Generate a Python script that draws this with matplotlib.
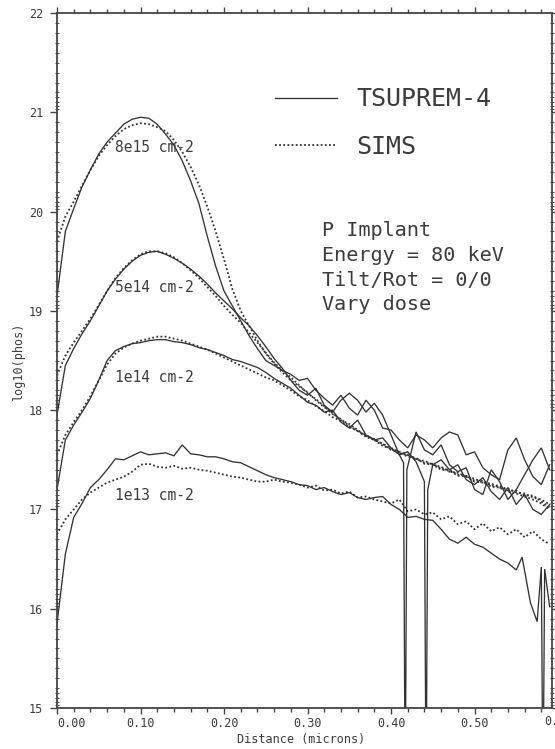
import matplotlib
matplotlib.use("Agg")
import matplotlib.pyplot as plt
import matplotlib.transforms as mtransforms

# ---------------- data (depth in microns, log10 concentration) ----------------
depth_main = [0.00, 0.01, 0.02, 0.03, 0.04, 0.05, 0.06, 0.07, 0.08, 0.09,
              0.10, 0.11, 0.12, 0.13, 0.14, 0.15, 0.16, 0.17, 0.18, 0.19,
              0.20, 0.21, 0.22, 0.23, 0.24, 0.25]
depth_tail = [0.26, 0.27, 0.28, 0.29, 0.30, 0.31, 0.32, 0.33, 0.34, 0.35,
              0.36, 0.37, 0.38, 0.39, 0.40, 0.41, 0.42, 0.43, 0.44, 0.45,
              0.46, 0.47, 0.48, 0.49, 0.50, 0.51, 0.52, 0.53, 0.54, 0.55,
              0.56, 0.57, 0.58, 0.59]

# TSUPREM-4 (solid)
tsu_8e15 = [19.15, 19.80, 20.03, 20.25, 20.42, 20.58, 20.70, 20.79, 20.88, 20.93,
            20.95, 20.94, 20.88, 20.78, 20.67, 20.51, 20.31, 20.08, 19.75, 19.45,
            19.20, 19.05, 18.90, 18.75, 18.62, 18.50,
            18.45, 18.40, 18.36, 18.30, 18.32, 18.20, 18.12, 18.05, 18.15, 18.02,
            17.95, 18.10, 18.00, 17.82, 17.80, 17.70, 17.62, 17.75, 17.70, 17.62,
            17.72, 17.78, 17.75, 17.55, 17.58, 17.42, 17.35, 17.30, 17.60, 17.72,
            17.50, 17.33, 17.25, 17.45]

depth_tsu_5e14_tail = [0.26, 0.27, 0.28, 0.29, 0.30, 0.31, 0.32, 0.33, 0.34, 0.35,
                       0.36, 0.37, 0.38, 0.39, 0.40, 0.41, 0.415, 0.417, 0.419, 0.43,
                       0.44, 0.45, 0.46, 0.47, 0.48, 0.49, 0.50, 0.51, 0.52, 0.53,
                       0.54, 0.55, 0.56, 0.57, 0.58, 0.59]
tsu_5e14 = [17.95, 18.45, 18.62, 18.77, 18.90, 19.05, 19.20, 19.32, 19.42, 19.50,
            19.56, 19.59, 19.60, 19.57, 19.53, 19.48, 19.42, 19.35, 19.27, 19.18,
            19.10, 19.02, 18.93, 18.85, 18.75, 18.64,
            18.52, 18.42, 18.30, 18.20, 18.15, 18.22, 18.05, 17.98, 18.10, 18.17,
            18.10, 17.98, 18.07, 17.95, 17.75, 17.55, 17.47, 14.00, 17.40, 17.78,
            17.60, 17.55, 17.65, 17.45, 17.38, 17.42, 17.20, 17.15, 17.40, 17.28,
            17.10, 17.20, 17.35, 17.50, 17.62, 17.40]

depth_tsu_1e14_tail = [0.26, 0.27, 0.28, 0.29, 0.30, 0.31, 0.32, 0.33, 0.34, 0.35,
                       0.36, 0.37, 0.38, 0.39, 0.40, 0.41, 0.42, 0.43, 0.44, 0.442,
                       0.444, 0.45, 0.46, 0.47, 0.48, 0.49, 0.50, 0.51, 0.52, 0.53,
                       0.54, 0.55, 0.56, 0.57, 0.58, 0.59]
tsu_1e14 = [17.20, 17.70, 17.85, 17.98, 18.12, 18.30, 18.50, 18.60, 18.64, 18.67,
            18.68, 18.70, 18.71, 18.71, 18.69, 18.68, 18.66, 18.63, 18.61, 18.58,
            18.55, 18.51, 18.49, 18.46, 18.43, 18.38,
            18.32, 18.27, 18.22, 18.15, 18.08, 18.05, 17.98, 18.00, 17.88, 17.82,
            17.90, 17.75, 17.70, 17.72, 17.62, 17.55, 17.58, 17.48, 17.28, 14.00,
            17.20, 17.45, 17.50, 17.40, 17.45, 17.30, 17.25, 17.32, 17.18, 17.10,
            17.22, 17.05, 17.15, 17.00, 16.95, 17.05]

depth_tsu_1e13_tail = [0.26, 0.27, 0.28, 0.29, 0.30, 0.31, 0.32, 0.33, 0.34, 0.35,
                       0.36, 0.37, 0.38, 0.39, 0.40, 0.41, 0.42, 0.43, 0.44, 0.45,
                       0.46, 0.47, 0.48, 0.49, 0.50, 0.51, 0.52, 0.53, 0.54, 0.55,
                       0.557, 0.567, 0.575, 0.580, 0.582, 0.584, 0.59]
tsu_1e13 = [15.85, 16.55, 16.92, 17.06, 17.22, 17.30, 17.40, 17.51, 17.50, 17.54,
            17.58, 17.55, 17.56, 17.57, 17.54, 17.65, 17.56, 17.55, 17.53, 17.53,
            17.51, 17.48, 17.47, 17.43, 17.39, 17.35,
            17.32, 17.30, 17.28, 17.25, 17.24, 17.20, 17.22, 17.18, 17.15, 17.17,
            17.12, 17.10, 17.12, 17.13, 17.05, 17.00, 16.92, 16.93, 16.90, 16.89,
            16.80, 16.70, 16.66, 16.72, 16.65, 16.62, 16.56, 16.50, 16.46, 16.39,
            16.52, 16.06, 15.87, 16.42, 14.00, 16.40, 16.02]

# SIMS (dotted)
sims_8e15 = [19.70, 19.95, 20.10, 20.26, 20.42, 20.56, 20.67, 20.76, 20.83, 20.87,
             20.89, 20.88, 20.85, 20.81, 20.72, 20.60, 20.45, 20.27, 20.05, 19.80,
             19.52, 19.22, 19.00, 18.85, 18.70, 18.57,
             18.47, 18.38, 18.30, 18.24, 18.18, 18.10, 18.03, 17.97, 17.90, 17.86,
             17.80, 17.74, 17.71, 17.66, 17.62, 17.58, 17.55, 17.50, 17.49, 17.45,
             17.43, 17.38, 17.37, 17.33, 17.31, 17.27, 17.26, 17.22, 17.21, 17.17,
             17.16, 17.12, 17.10, 17.05]
sims_5e14 = [18.35, 18.55, 18.68, 18.80, 18.92, 19.06, 19.20, 19.33, 19.43, 19.51,
             19.57, 19.60, 19.60, 19.58, 19.54, 19.48, 19.41, 19.33, 19.24, 19.15,
             19.05, 18.96, 18.88, 18.78, 18.68, 18.58,
             18.48, 18.40, 18.33, 18.25, 18.17, 18.11, 18.04, 17.96, 17.91, 17.84,
             17.79, 17.75, 17.70, 17.64, 17.61, 17.56, 17.55, 17.51, 17.47, 17.46,
             17.41, 17.40, 17.35, 17.34, 17.29, 17.29, 17.24, 17.24, 17.19, 17.19,
             17.14, 17.14, 17.08, 17.02]
sims_1e14 = [17.55, 17.75, 17.88, 18.00, 18.14, 18.30, 18.46, 18.57, 18.63, 18.67,
             18.70, 18.72, 18.74, 18.74, 18.72, 18.70, 18.67, 18.64, 18.61, 18.57,
             18.53, 18.49, 18.45, 18.41, 18.37, 18.33,
             18.30, 18.25, 18.20, 18.14, 18.10, 18.04, 17.99, 17.93, 17.89, 17.83,
             17.79, 17.73, 17.70, 17.66, 17.60, 17.58, 17.53, 17.52, 17.46, 17.45,
             17.40, 17.39, 17.34, 17.33, 17.28, 17.27, 17.23, 17.22, 17.18, 17.16,
             17.13, 17.10, 17.06, 17.00]
sims_1e13 = [16.75, 16.90, 17.00, 17.10, 17.17, 17.22, 17.27, 17.30, 17.33, 17.38,
             17.45, 17.46, 17.43, 17.42, 17.44, 17.41, 17.42, 17.40, 17.39, 17.37,
             17.35, 17.33, 17.32, 17.30, 17.28, 17.28,
             17.30, 17.28, 17.27, 17.25, 17.22, 17.24, 17.19, 17.20, 17.16, 17.18,
             17.12, 17.13, 17.10, 17.08, 17.06, 17.10, 16.98, 17.00, 16.95, 16.97,
             16.90, 16.93, 16.85, 16.88, 16.80, 16.86, 16.78, 16.82, 16.75, 16.80,
             16.72, 16.78, 16.70, 16.65]

dose_labels = ["8e15 cm-2", "5e14 cm-2", "1e14 cm-2", "1e13 cm-2"]
dose_label_y = [20.65, 19.24, 18.33, 17.14]
x_ticks = [0.00, 0.10, 0.20, 0.30, 0.40, 0.50, 0.60]
x_ticklabels = ["0.00", "0.10", "0.20", "0.30", "0.40", "0.50", "0.60"]
y_ticks = [15, 16, 17, 18, 19, 20, 21, 22]
y_ticklabels = ["15", "16", "17", "18", "19", "20", "21", "22"]
info_lines = ["P Implant", "Energy = 80 keV", "Tilt/Rot = 0/0", "Vary dose"]
legend_labels = ["TSUPREM-4", "SIMS"]

# ---------------- figure ----------------
FONT = "DejaVu Sans Mono"
INK = "#333333"
TXT = "#3c3c3c"

fig = plt.figure(figsize=(5.55, 7.49), dpi=100)
ax = fig.add_axes([57/555, 1-708/749, (552-57)/555, (708-13)/749])

depth_full = depth_main + depth_tail
solid_kw = dict(color=INK, lw=0.95, solid_joinstyle="miter")
dot_kw = dict(color=INK, lw=1.3, linestyle=(0, (1, 1.3)))

l1, = ax.plot(depth_full, tsu_8e15, label=legend_labels[0], **solid_kw)
ax.plot(depth_main + depth_tsu_5e14_tail, tsu_5e14, **solid_kw)
ax.plot(depth_main + depth_tsu_1e14_tail, tsu_1e14, **solid_kw)
ax.plot(depth_main + depth_tsu_1e13_tail, tsu_1e13, **solid_kw)

l2, = ax.plot(depth_full, sims_8e15, label=legend_labels[1], **dot_kw)
ax.plot(depth_full, sims_5e14, **dot_kw)
ax.plot(depth_full, sims_1e14, **dot_kw)
ax.plot(depth_full, sims_1e13, **dot_kw)

ax.set_xlim(0, 0.5928)
ax.set_ylim(15, 22)

# ticks
ax.set_xticks(x_ticks[:-1])
ax.set_xticklabels(x_ticklabels[:-1], family=FONT, fontsize=8.5, color=TXT)
ax.get_xticklabels()[0].set_horizontalalignment("left")
ax.set_xticks([0.02 * i for i in range(1, 30) if i % 5 != 0], minor=True)
ax.text(x_ticks[-1], -0.0105, x_ticklabels[-1],
        transform=mtransforms.blended_transform_factory(ax.transData, ax.transAxes),
        ha="center", va="top", family=FONT, fontsize=8.5, color=TXT, clip_on=False)

ax.set_yticks(y_ticks)
ax.set_yticklabels(y_ticklabels, family=FONT, fontsize=8.5, color=TXT)
minor_frac = [0.03, 0.06, 0.1, 0.15, 0.2, 0.3, 0.4, 0.5, 0.6, 0.7, 0.8, 0.9]
ax.set_yticks([n + f for n in range(15, 22) for f in minor_frac], minor=True)

ax.tick_params(axis="x", which="major", direction="out", length=4, width=1.0,
               top=True, color="#444444", pad=2.5)
ax.tick_params(axis="x", which="minor", direction="out", length=3, width=1.0,
               top=True, color="#444444")
ax.tick_params(axis="y", which="major", direction="out", length=5, width=1.0,
               right=True, color="#444444", pad=5)
ax.tick_params(axis="y", which="minor", direction="inout", length=3, width=0.8,
               right=True, color="#555555")
for s in ax.spines.values():
    s.set_color("#444444")
    s.set_linewidth(1.3)

# curve labels
for lab, yv in zip(dose_labels, dose_label_y):
    ax.text(0.069, yv, lab, family=FONT, fontsize=10.5, color=TXT, ha="left", va="center")

# info block
info_y = [19.81, 19.56, 19.31, 19.06]
for s, yv in zip(info_lines, info_y):
    ax.text(0.317, yv, s, family=FONT, fontsize=14.5, color=TXT, ha="left", va="center")

# legend
leg = ax.legend(handles=[l1, l2], loc="upper left", bbox_to_anchor=(0.4404, 0.893),
                frameon=False, prop={"family": FONT, "size": 18}, handlelength=2.5,
                handletextpad=0.75, labelspacing=0.95, borderpad=0, borderaxespad=0)
for t in leg.get_texts():
    t.set_color(TXT)

# axis labels
fig.text(301/555, 1-740/749, "Distance (microns)", family=FONT, fontsize=8.5,
         color=TXT, ha="center", va="center")
fig.text(19/555, 1-362/749, "log10(phos)", family=FONT, fontsize=8.5,
         color=TXT, ha="center", va="center", rotation=90)

fig.savefig("out.png", dpi=100)
